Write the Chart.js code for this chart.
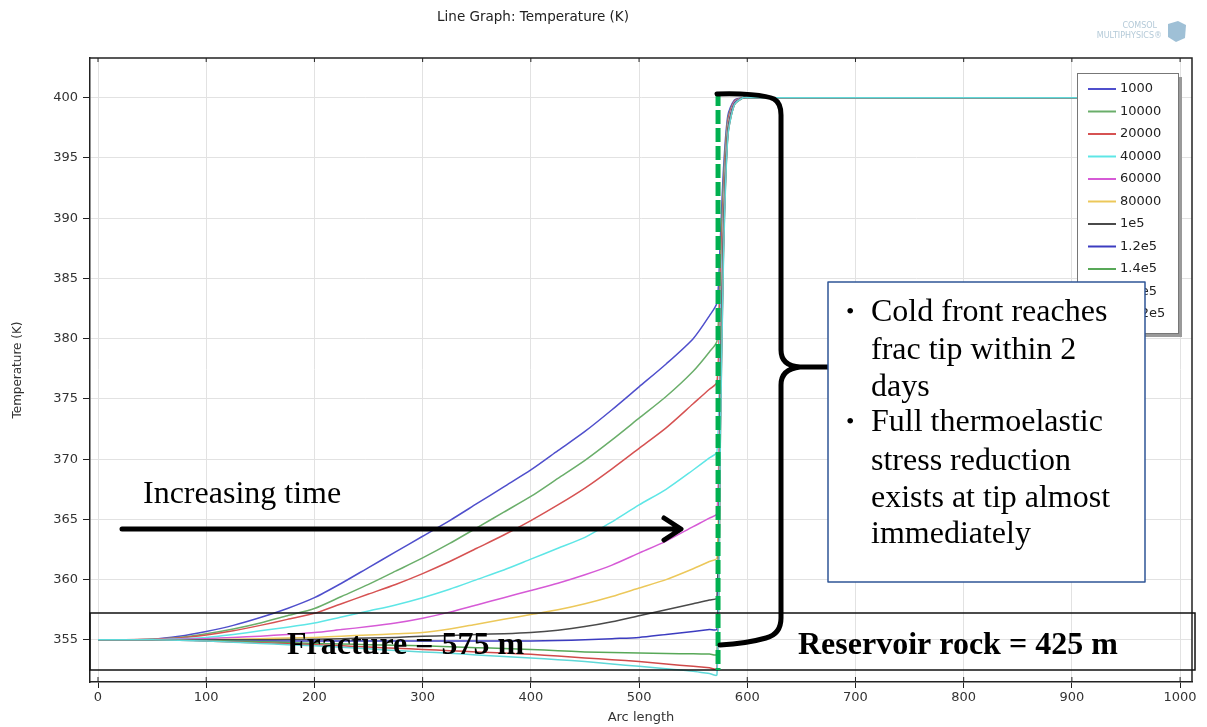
<!DOCTYPE html>
<html>
<head>
<meta charset="utf-8">
<script src="https://cdn.jsdelivr.net/npm/chart.js@4/dist/chart.umd.min.js"></script>
<style>
  html, body { margin: 0; padding: 0; background: #fff; }
</style>
</head>
<body>
<canvas id="myChart" width="1207" height="727"></canvas>
<script>
"use strict";

// arc length positions (m) where the temperature profiles were read
var arcLength = [0, 25, 50, 75, 100, 125, 150, 175, 200, 225, 250, 275, 300, 325, 350, 375, 400, 425, 450, 475, 500, 525, 550, 565, 572,
                 575, 578, 582, 588, 596, 600, 1000];

// temperature (K) for each output time
var t1000   = [355.0, 355.0, 355.05, 355.3, 355.7, 356.2, 356.85, 357.6, 358.5, 359.7, 361.0, 362.3, 363.6, 364.9, 366.3, 367.7, 369.1, 370.7, 372.3, 374.1, 376.0, 377.9, 380.0, 381.9, 383.0,
               388.0, 394.0, 398.5, 399.8, 400, 400, 400];
var t10000  = [355.0, 355.0, 355.05, 355.2, 355.5, 355.9, 356.4, 357.0, 357.6, 358.6, 359.6, 360.7, 361.8, 363.0, 364.3, 365.6, 366.9, 368.4, 369.9, 371.6, 373.4, 375.2, 377.3, 378.9, 379.8,
               386.0, 393.0, 398.2, 399.7, 400, 400, 400];
var t20000  = [355.0, 355.0, 355.05, 355.15, 355.4, 355.75, 356.2, 356.7, 357.2, 358.0, 358.8, 359.6, 360.5, 361.5, 362.6, 363.7, 364.9, 366.2, 367.6, 369.2, 370.9, 372.6, 374.6, 375.8, 376.4,
               384.0, 392.0, 398.0, 399.7, 400, 400, 400];
var t40000  = [355.0, 355.0, 355.02, 355.1, 355.2, 355.45, 355.75, 356.05, 356.4, 356.9, 357.4, 357.9, 358.5, 359.2, 360.0, 360.8, 361.7, 362.6, 363.5, 364.8, 366.2, 367.5, 369.1, 370.1, 370.6,
               381.0, 390.5, 397.6, 399.6, 400, 400, 400];
var t60000  = [355.0, 355.0, 355.0, 355.05, 355.1, 355.2, 355.3, 355.45, 355.6, 355.85, 356.1, 356.4, 356.8, 357.3, 357.9, 358.5, 359.1, 359.7, 360.4, 361.2, 362.2, 363.2, 364.4, 365.1, 365.5,
               378.0, 389.5, 397.4, 399.6, 400, 400, 400];
var t80000  = [355.0, 355.0, 355.0, 355.0, 355.0, 355.05, 355.1, 355.15, 355.2, 355.3, 355.4, 355.5, 355.6, 355.9, 356.3, 356.7, 357.1, 357.5, 358.0, 358.6, 359.3, 360.0, 360.9, 361.5, 361.8,
               376.0, 389.0, 397.3, 399.5, 400, 400, 400];
var t1e5    = [355.0, 355.0, 355.0, 355.0, 355.0, 355.0, 355.0, 355.02, 355.05, 355.1, 355.15, 355.2, 355.3, 355.35, 355.45, 355.5, 355.6, 355.8, 356.1, 356.5, 357.0, 357.5, 358.0, 358.3, 358.5,
               375.0, 388.5, 397.2, 399.5, 400, 400, 400];
var t1_2e5  = [355.0, 355.0, 355.0, 354.98, 354.95, 354.92, 354.9, 354.9, 354.9, 354.9, 354.9, 354.9, 354.9, 354.9, 354.9, 354.9, 354.9, 354.95, 355.0, 355.1, 355.2, 355.45, 355.7, 355.85, 355.9,
               373.0, 388.0, 397.0, 399.5, 400, 400, 400];
var t1_4e5  = [355.0, 355.0, 355.0, 354.98, 354.95, 354.9, 354.85, 354.78, 354.7, 354.65, 354.6, 354.55, 354.5, 354.42, 354.35, 354.28, 354.2, 354.1, 354.0, 353.95, 353.9, 353.87, 353.84, 353.82, 353.8,
               372.0, 387.5, 396.9, 399.4, 400, 400, 400];
var t1_6e5  = [355.0, 355.0, 355.0, 354.97, 354.9, 354.82, 354.75, 354.68, 354.6, 354.5, 354.4, 354.3, 354.2, 354.1, 354.0, 353.9, 353.8, 353.65, 353.5, 353.35, 353.2, 353.0, 352.8, 352.68, 352.6,
               371.0, 387.0, 396.8, 399.4, 400, 400, 400];
var t1_72e5 = [355.0, 355.0, 355.0, 354.96, 354.9, 354.8, 354.7, 354.6, 354.5, 354.38, 354.25, 354.12, 354.0, 353.88, 353.75, 353.62, 353.5, 353.35, 353.2, 353.0, 352.8, 352.6, 352.4, 352.2, 352.1,
               370.5, 386.5, 396.7, 399.4, 400, 400, 400];

var seriesLabels = ["1000", "10000", "20000", "40000", "60000", "80000", "1e5", "1.2e5", "1.4e5", "1.6e5", "1.72e5"];
var seriesValues = [t1000, t10000, t20000, t40000, t60000, t80000, t1e5, t1_2e5, t1_4e5, t1_6e5, t1_72e5];
var seriesColors = ["#4f4fcc", "#6aae6a", "#d65252", "#5ee6e6", "#d65ad6", "#ecc85a", "#4a4a4a", "#3c3cc0", "#58a858", "#d04a4a", "#5fd8d8"];

var xTicks = [0, 100, 200, 300, 400, 500, 600, 700, 800, 900, 1000];

var datasets = seriesValues.map(function (vals, i) {
    return {
        label: seriesLabels[i],
        data: vals.map(function (v, k) { return { x: arcLength[k], y: v }; }),
        borderColor: seriesColors[i],
        backgroundColor: seriesColors[i],
        borderWidth: 1.5,
        pointRadius: 0,
        fill: false,
        tension: 0.25,
        order: seriesValues.length - i
    };
});

// frame, legend and the slide annotations laid over the plot
var overlay = {
    id: 'overlay',
    afterDraw: function (chart) {
        var ctx = chart.ctx;
        var a = chart.chartArea;
        var xs = chart.scales.x;
        ctx.save();

        // top / right frame
        ctx.strokeStyle = '#222';
        ctx.lineWidth = 1.5;
        ctx.beginPath();
        ctx.moveTo(a.left, a.top); ctx.lineTo(a.right, a.top); ctx.lineTo(a.right, a.bottom);
        ctx.stroke();
        ctx.lineWidth = 1;
        xTicks.forEach(function (v) {
            var px = xs.getPixelForValue(v);
            ctx.beginPath(); ctx.moveTo(px, a.top); ctx.lineTo(px, a.top + 4); ctx.stroke();
            ctx.beginPath(); ctx.moveTo(px, a.bottom); ctx.lineTo(px, a.bottom - 5); ctx.stroke();
        });

        // title + logo
        ctx.fillStyle = '#222';
        ctx.font = '13.5px "DejaVu Sans"';
        ctx.textAlign = 'center';
        ctx.textBaseline = 'middle';
        ctx.fillText('Line Graph: Temperature (K)', 533, 17);
        ctx.fillStyle = '#b4cad8';
        ctx.font = '8px "DejaVu Sans"';
        ctx.textAlign = 'right';
        ctx.fillText('COMSOL', 1157, 26);
        ctx.fillText('MULTIPHYSICS\u00ae', 1162, 36);
        ctx.fillStyle = '#9fc0d6';
        ctx.beginPath();
        ctx.moveTo(1168, 24); ctx.lineTo(1178, 21); ctx.lineTo(1186, 25); ctx.lineTo(1185, 38);
        ctx.lineTo(1176, 42); ctx.lineTo(1168, 37); ctx.closePath(); ctx.fill();

        // legend
        var lx = 1077, ly = 73, lw = 101, lh = 260;
        ctx.fillStyle = '#9a9a9a';
        ctx.fillRect(lx + 4, ly + 4, lw, lh);
        ctx.fillStyle = '#fff';
        ctx.fillRect(lx, ly, lw, lh);
        ctx.strokeStyle = '#777';
        ctx.lineWidth = 1;
        ctx.strokeRect(lx + 0.5, ly + 0.5, lw, lh);
        ctx.font = '13px "DejaVu Sans"';
        ctx.textAlign = 'left';
        chart.data.datasets.forEach(function (ds, i) {
            var yy = ly + 16 + i * 22.5;
            ctx.strokeStyle = ds.borderColor;
            ctx.lineWidth = 2;
            ctx.beginPath(); ctx.moveTo(lx + 11, yy); ctx.lineTo(lx + 39, yy); ctx.stroke();
            ctx.fillStyle = '#222';
            ctx.fillText(ds.label, lx + 43, yy);
        });

        // fracture / reservoir band
        ctx.strokeStyle = '#111';
        ctx.lineWidth = 1.5;
        ctx.strokeRect(a.left, 613, 1195 - a.left, 57);

        // fracture tip marker
        var tipX = xs.getPixelForValue(573);
        ctx.strokeStyle = '#00b050';
        ctx.lineWidth = 5;
        ctx.setLineDash([14, 4]);
        ctx.beginPath(); ctx.moveTo(tipX, 92); ctx.lineTo(tipX, 670); ctx.stroke();
        ctx.setLineDash([]);

        // curly brace
        ctx.strokeStyle = '#000';
        ctx.lineWidth = 5;
        ctx.lineCap = 'round';
        ctx.lineJoin = 'round';
        ctx.beginPath();
        ctx.moveTo(717, 94);
        ctx.bezierCurveTo(740, 93, 766, 95, 774, 99);
        ctx.quadraticCurveTo(781, 103, 781, 115);
        ctx.lineTo(781, 350);
        ctx.quadraticCurveTo(781, 366, 800, 367);
        ctx.lineTo(842, 367);
        ctx.moveTo(800, 367);
        ctx.quadraticCurveTo(781, 369, 781, 385);
        ctx.lineTo(781, 618);
        ctx.quadraticCurveTo(781, 634, 766, 638);
        ctx.bezierCurveTo(752, 642, 737, 644, 720, 645);
        ctx.stroke();

        // increasing time arrow
        ctx.beginPath();
        ctx.moveTo(122, 529); ctx.lineTo(680, 529);
        ctx.moveTo(664, 518); ctx.lineTo(681, 529); ctx.lineTo(664, 540);
        ctx.stroke();
        ctx.fillStyle = '#000';
        ctx.font = '32px "Liberation Serif"';
        ctx.textAlign = 'left';
        ctx.textBaseline = 'alphabetic';
        ctx.fillText('Increasing time', 143, 503);

        ctx.font = 'bold 32px "Liberation Serif"';
        ctx.fillText('Fracture = 575 m', 287, 654);
        ctx.fillText('Reservoir rock = 425 m', 798, 654);

        // text box
        ctx.fillStyle = '#fff';
        ctx.fillRect(828, 282, 317, 300);
        ctx.strokeStyle = '#2f5597';
        ctx.lineWidth = 1.5;
        ctx.strokeRect(828, 282, 317, 300);
        ctx.fillStyle = '#000';
        var lines = [
            ['\u2022', 'Cold front reaches', 321],
            ['', 'frac tip within 2', 359],
            ['', 'days', 396],
            ['\u2022', 'Full thermoelastic', 431],
            ['', 'stress reduction', 470],
            ['', 'exists at tip almost', 507],
            ['', 'immediately', 543]
        ];
        ctx.font = '24px "Liberation Serif"';
        lines.forEach(function (l) {
            if (l[0]) ctx.fillText(l[0], 846, l[2] - 2);
        });
        ctx.font = '32px "Liberation Serif"';
        lines.forEach(function (l) {
            ctx.fillText(l[1], 871, l[2]);
        });

        ctx.restore();
    }
};

new Chart(document.getElementById('myChart'), {
    type: 'line',
    data: { datasets: datasets },
    options: {
        responsive: false,
        animation: false,
        layout: { padding: { top: 58, right: 15, left: 0, bottom: 0 } },
        plugins: {
            legend: { display: false },
            tooltip: { enabled: false },
            title: { display: false }
        },
        scales: {
            x: {
                type: 'linear',
                min: -7.4,
                max: 1011,
                afterFit: function (s) { s.height = 45; },
                ticks: {
                    stepSize: 100, includeBounds: false, color: '#333', padding: 2, maxRotation: 0,
                    font: { family: 'DejaVu Sans', size: 13 },
                    callback: function (v) { return String(v); }
                },
                grid: { color: '#e2e2e2', tickLength: 6, tickColor: '#222' },
                border: { color: '#222', width: 1.5 },
                title: { display: true, text: 'Arc length', color: '#333', font: { family: 'DejaVu Sans', size: 13 }, padding: { top: 0, bottom: 2 } }
            },
            y: {
                min: 351.5,
                max: 403.3,
                afterFit: function (s) { s.width = 90; },
                ticks: { stepSize: 5, includeBounds: false, color: '#333', font: { family: 'DejaVu Sans', size: 13 }, padding: 5 },
                grid: { color: '#e2e2e2', tickLength: 7, tickColor: '#222' },
                border: { color: '#222', width: 1.5 },
                title: { display: true, text: 'Temperature (K)', color: '#333', font: { family: 'DejaVu Sans', size: 12 }, padding: { top: 11, bottom: 0 } }
            }
        }
    },
    plugins: [overlay]
});
</script>
</body>
</html>
